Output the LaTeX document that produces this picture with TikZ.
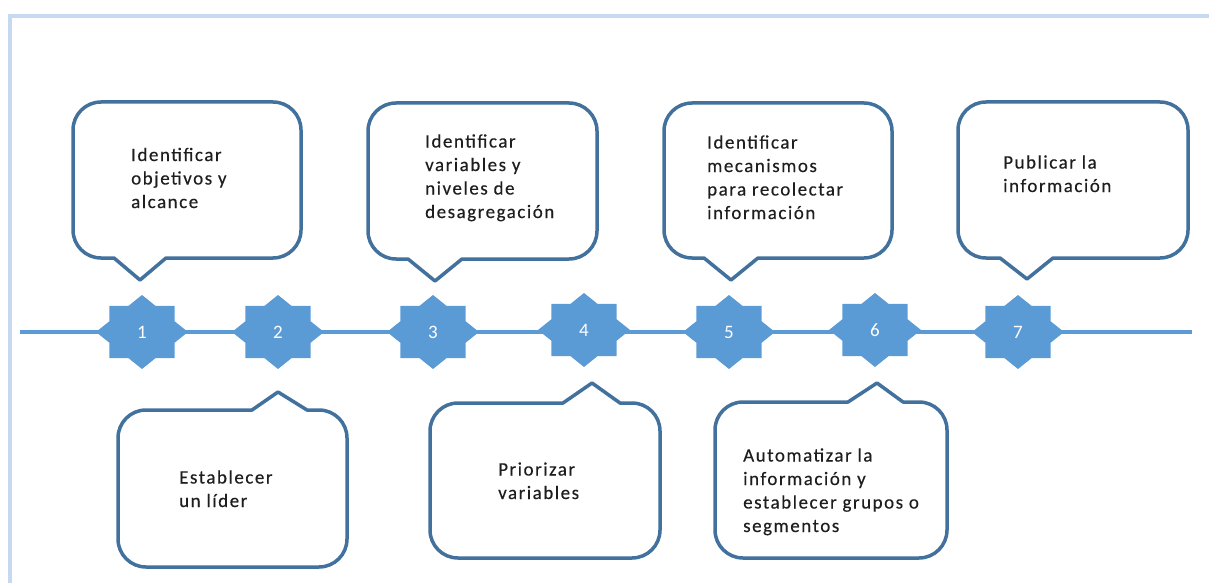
\documentclass[tikz,border=0pt]{standalone}
\usepackage{fontspec}
\setmainfont{Carlito}
\newfontfamily\calfont[LetterSpace=8,FakeBold=0.3]{Carlito}
\usetikzlibrary{shapes.geometric,backgrounds}
\definecolor{frameblue}{HTML}{C6D9F1}
\definecolor{linkblue}{HTML}{5B9BD5}
\definecolor{edgeblue}{HTML}{41719C}
\definecolor{txtgray}{HTML}{1E1E1E}
\newcommand\calldn[8]{%
  \draw[callout] ({#1},{#3+28}) arc[start angle=180,end angle=270,radius=28]
   -- ({#2-28},{#3}) arc[start angle=270,end angle=360,radius=28]
   -- ({#2},{#4-28}) arc[start angle=0,end angle=90,radius=28]
   -- ({#6},{#4}) -- ({#7},{#8}) -- ({#5},{#4})
   -- ({#1+28},{#4}) arc[start angle=90,end angle=180,radius=28] -- cycle;}
\newcommand\callup[8]{%
  \draw[callout] ({#1},{#3+28}) arc[start angle=180,end angle=270,radius=28]
   -- ({#5},{#3}) -- ({#7},{#8}) -- ({#6},{#3})
   -- ({#2-28},{#3}) arc[start angle=270,end angle=360,radius=28]
   -- ({#2},{#4-28}) arc[start angle=0,end angle=90,radius=28]
   -- ({#1+28},{#4}) arc[start angle=90,end angle=180,radius=28] -- cycle;}
\begin{document}
\begin{tikzpicture}[x=1pt,y=1pt,yscale=-1,
  callout/.style={draw=edgeblue,line width=3.5pt,line join=round,fill=white},
  starnode/.style={star,star points=8,star point ratio=1.307,minimum size=74pt,
     inner sep=0pt,outer sep=0pt,fill=linkblue,draw=none,xscale=1.243,transform shape},
  numtxt/.style={text=white,font=\fontsize{19}{22}\selectfont,inner sep=0pt},
  boxtxt/.style={anchor=base west,align=left,inner sep=0pt,text=txtgray,
     font=\calfont\fontsize{19}{23.5}\selectfont},
  frameline/.style={draw=frameblue,line width=4pt},
  axisline/.style={draw=linkblue,line width=4pt}]
\useasboundingbox (0,0) rectangle (1209,583);
\draw[frameline] (10,583) -- (10,16) -- (1209,16);
% stars
\node[starnode] (s1) at (142,332) {};
\node[starnode] (s2) at (278,332) {};
\node[starnode] (s3) at (433,332) {};
\node[starnode] (s4) at (584,330) {};
\node[starnode] (s5) at (729,332) {};
\node[starnode] (s6) at (875,330) {};
\node[starnode] (s7) at (1018,332) {};
\coordinate (lstart) at (20,332);
\coordinate (lend) at (1192,332);
\begin{scope}[on background layer]
\draw[axisline] (lstart) -- (lend);
\end{scope}
\foreach \i in {1,...,7} {\node[numtxt] (n\i) at (s\i) {\i};}
% callouts above
\calldn{73}{301}{102}{258}{114}{166}{140}{280}
\calldn{368}{597}{103}{259}{408}{462}{435}{281}
\calldn{664}{892}{103}{258}{704}{758}{731}{280}
\calldn{958}{1188}{102}{258}{1000}{1053}{1027}{279}
% callouts below
\callup{118}{347}{410}{567}{252}{307}{278}{392}
\callup{430}{660}{403}{558}{563}{620}{592}{383}
\callup{715}{947}{402}{558}{848}{903}{877}{383}
% texts (anchored at baseline of last line)
\node[boxtxt] (t1) at (131,208) {Identificar\\objetivos y\\alcance};
\node[boxtxt] (t3) at (425,218) {Identificar\\variables y\\niveles de\\desagregación};
\node[boxtxt] (t5) at (707,219) {Identificar\\mecanismos\\para recolectar\\información};
\node[boxtxt] (t7) at (1003,192) {Publicar la\\información};
\node[boxtxt] (t2) at (179,507) {Establecer\\un líder};
\node[boxtxt] (t4) at (498,499) {Priorizar\\variables};
\node[boxtxt] (t6) at (743,532) {Automatizar la\\información y\\establecer grupos o\\segmentos};
\end{tikzpicture}
\end{document}
